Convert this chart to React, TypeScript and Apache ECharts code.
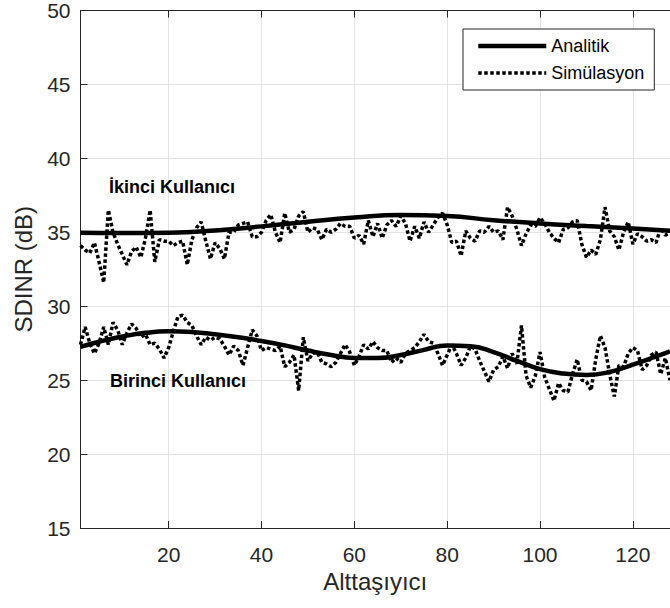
import React, { useEffect, useRef } from "react";
import * as echarts from "echarts";

// Analytic (smooth) curves, read at sparse subcarrier positions
const upperAnalyticX = [1, 10, 20, 30, 40, 50, 60, 70, 80, 90, 100, 110, 120, 128];
const upperAnalyticY = [34.97, 34.95, 34.97, 35.12, 35.4, 35.72, 36.0, 36.17, 36.1, 35.82, 35.6, 35.42, 35.25, 35.1];

const lowerAnalyticX = [1, 5, 10, 15, 20, 25, 30, 35, 40, 45, 50, 55, 60, 65, 70, 75, 80, 85, 90, 95, 100, 105, 110, 115, 120, 125, 128];
const lowerAnalyticY = [27.25, 27.6, 27.95, 28.2, 28.3, 28.25, 28.1, 27.9, 27.65, 27.35, 27.0, 26.7, 26.5, 26.5, 26.7, 27.05, 27.35, 27.3, 26.9, 26.3, 25.75, 25.45, 25.35, 25.55, 26.05, 26.6, 26.95];

// Simulation values, one per subcarrier 1..128
const upperSim = [
  34.1, 33.8, 33.6, 34.3, 33.0, 31.6, 36.5, 35.0, 34.2, 33.5,
  32.8, 33.7, 34.0, 33.3, 34.6, 36.5, 33.0, 34.5, 34.4, 34.4,
  34.1, 34.3, 34.4, 32.8, 34.5, 35.3, 35.7, 34.4, 33.2, 34.3,
  33.9, 33.2, 35.0, 35.0, 35.5, 35.6, 35.7, 34.7, 34.7, 35.0,
  35.8, 36.2, 35.0, 34.3, 36.3, 35.0, 35.2, 36.1, 36.4, 35.0,
  35.3, 35.2, 34.5, 35.2, 35.0, 35.2, 35.6, 35.4, 35.4, 34.6,
  34.8, 34.2, 35.8, 34.7, 35.6, 34.6, 35.5, 35.8, 35.4, 36.1,
  35.6, 34.4, 35.4, 34.6, 35.7, 35.0, 35.5, 36.0, 36.3, 35.5,
  34.3, 34.4, 33.4, 35.1, 34.6, 34.4, 35.1, 35.0, 35.4, 35.0,
  35.1, 34.5, 36.7, 36.1, 35.2, 34.1, 34.9, 35.5, 35.4, 36.0,
  35.6, 35.0, 34.6, 34.3, 35.2, 35.3, 35.7, 35.8, 34.2, 33.3,
  33.8, 33.5, 34.5, 36.7, 35.1, 34.7, 33.8, 35.0, 35.7, 34.2,
  34.9, 34.7, 34.4, 34.5, 34.3, 35.3, 34.8, 35.0,
];

const lowerSim = [
  27.4, 28.6, 27.5, 26.8, 27.5, 28.6, 27.4, 28.9, 28.4, 27.4,
  28.2, 28.8, 28.5, 27.9, 28.1, 27.4, 27.5, 27.1, 26.5, 27.2,
  28.3, 29.3, 29.4, 28.9, 28.7, 28.0, 27.4, 27.9, 27.7, 27.9,
  27.8, 27.3, 26.7, 27.3, 27.0, 26.0, 27.2, 28.4, 28.0, 27.0,
  27.2, 27.1, 27.0, 27.3, 25.9, 26.2, 26.7, 24.3, 27.9, 26.3,
  26.8, 26.9, 26.2, 26.1, 25.9, 26.2, 26.8, 27.4, 26.9, 26.0,
  26.6, 27.4, 27.1, 27.6, 27.2, 27.0, 27.0, 26.2, 26.5, 26.2,
  26.8, 27.0, 27.2, 27.6, 28.1, 27.6, 27.5, 26.8, 26.0, 26.7,
  27.4, 26.8, 26.0, 26.5, 27.3, 27.1, 26.3, 25.6, 24.9, 25.7,
  25.9, 26.6, 25.8, 26.8, 26.1, 28.7, 25.3, 24.5, 25.3, 26.9,
  25.2, 24.4, 23.6, 24.8, 24.3, 24.2, 25.4, 26.4, 25.0, 24.9,
  24.3, 26.4, 28.0, 27.2, 25.4, 23.9, 26.0, 25.9, 26.8, 27.2,
  27.0, 25.7, 26.0, 26.7, 26.9, 25.4, 26.5, 25.0,
];

const subcarriers = upperSim.map((_, i) => i + 1);

const X_MIN = 1;
const X_MAX = 128;
const Y_MIN = 15;
const Y_MAX = 50;
const Y_STEP = 5;

const xLabel = "Alttaşıyıcı";
const yLabel = "SDINR (dB)";
const legendAnalytic = "Analitik";
const legendSim = "Simülasyon";
const upperUser = "İkinci Kullanıcı";
const lowerUser = "Birinci Kullanıcı";

export default function App() {
  const ref = useRef<HTMLDivElement>(null);

  useEffect(() => {
    const chart = echarts.init(ref.current as HTMLDivElement, null, { renderer: "svg" });
    const font = "'Liberation Sans', Arial, Helvetica, sans-serif";
    const axisColor = "#262626";
    const gridColor = "#e3e3e3";

    const pair = (xs: number[], ys: number[]) => xs.map((x, i) => [x, ys[i]]);

    const simLine = {
      color: "#000",
      width: 3.5,
      type: [3.5, 2.5],
      cap: "butt",
    };
    const anaLine = { color: "#000", width: 4.5, type: "solid" };
    const hiddenSymbol = { color: "rgba(0,0,0,0)", borderWidth: 0, opacity: 0 };

    chart.setOption({
      animation: false,
      backgroundColor: "#ffffff",
      grid: { left: 80.5, right: -6, top: 7.5, bottom: 80, containLabel: false },
      legend: {
        orient: "vertical",
        left: 463,
        top: 29,
        data: [
          { name: legendAnalytic, itemStyle: hiddenSymbol, lineStyle: { width: 4.5, color: "#000", type: "solid" } },
          { name: legendSim, itemStyle: hiddenSymbol, lineStyle: { width: 3.5, color: "#000", type: [3.5, 2.5] } },
        ],
        itemWidth: 68,
        itemHeight: 14,
        itemGap: 9,
        padding: [8, 10, 8, 13],
        backgroundColor: "#fff",
        borderColor: axisColor,
        borderWidth: 1,
        borderRadius: 0,
        textStyle: { fontFamily: font, fontSize: 18, color: "#000" },
      },
      xAxis: [
        {
          type: "value",
          min: X_MIN,
          max: X_MAX,
          splitNumber: 6,
          name: xLabel,
          nameLocation: "middle",
          nameGap: 40,
          nameTextStyle: { fontFamily: font, fontSize: 24, color: axisColor },
          axisLine: { show: true, onZero: false, lineStyle: { color: axisColor, width: 1 } },
          axisTick: { show: true, inside: true, length: 7, lineStyle: { color: axisColor } },
          axisLabel: {
            showMinLabel: false,
            showMaxLabel: false,
            margin: 16,
            fontFamily: font,
            fontSize: 21,
            color: axisColor,
          },
          splitLine: { show: true, lineStyle: { color: gridColor, width: 1 } },
        },
        {
          type: "value",
          position: "top",
          min: X_MIN,
          max: X_MAX,
          splitNumber: 6,
          axisLine: { show: true, onZero: false, lineStyle: { color: axisColor, width: 1 } },
          axisTick: { show: true, inside: true, length: 7, lineStyle: { color: axisColor } },
          axisLabel: { show: false },
          splitLine: { show: false },
        },
      ],
      yAxis: [
        {
          type: "value",
          min: Y_MIN,
          max: Y_MAX,
          interval: Y_STEP,
          name: yLabel,
          nameLocation: "middle",
          nameGap: 45,
          nameTextStyle: { fontFamily: font, fontSize: 24, color: axisColor },
          axisLine: { show: true, onZero: false, lineStyle: { color: axisColor, width: 1 } },
          axisTick: { show: true, inside: true, length: 7, lineStyle: { color: axisColor } },
          axisLabel: { margin: 10, fontFamily: font, fontSize: 21, color: axisColor },
          splitLine: { show: true, lineStyle: { color: gridColor, width: 1 } },
        },
      ],
      series: [
        {
          name: legendSim,
          type: "line",
          data: pair(subcarriers, upperSim),
          symbol: "none",
          lineStyle: simLine,
          itemStyle: { color: "#000" },
          z: 2,
        },
        {
          name: legendSim,
          type: "line",
          data: pair(subcarriers, lowerSim),
          symbol: "none",
          lineStyle: simLine,
          itemStyle: { color: "#000" },
          z: 2,
        },
        {
          name: legendAnalytic,
          type: "line",
          data: pair(upperAnalyticX, upperAnalyticY),
          smooth: true,
          symbol: "none",
          lineStyle: anaLine,
          itemStyle: { color: "#000" },
          z: 3,
        },
        {
          name: legendAnalytic,
          type: "line",
          data: pair(lowerAnalyticX, lowerAnalyticY),
          smooth: true,
          symbol: "none",
          lineStyle: anaLine,
          itemStyle: { color: "#000" },
          z: 3,
        },
      ],
      graphic: [
        {
          type: "text",
          x: 109,
          y: 187,
          z: 10,
          style: {
            text: upperUser,
            font: `bold 18px ${font}`,
            fill: "#000",
            verticalAlign: "middle",
            textVerticalAlign: "middle",
          },
        },
        {
          type: "text",
          x: 110,
          y: 381,
          z: 10,
          style: {
            text: lowerUser,
            font: `bold 18px ${font}`,
            fill: "#000",
            verticalAlign: "middle",
            textVerticalAlign: "middle",
          },
        },
      ],
    });

    return () => chart.dispose();
  }, []);

  return (
    <div
      ref={ref}
      style={{ position: "absolute", left: 0, top: 0, width: 670, height: 608, background: "#fff" }}
    />
  );
}
